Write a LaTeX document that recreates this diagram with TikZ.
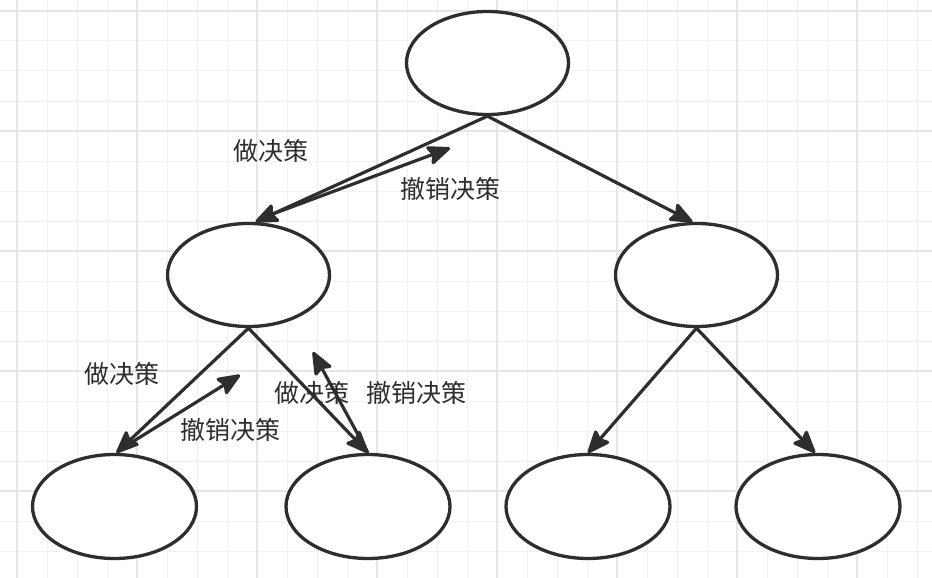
\documentclass[tikz,border=0pt]{standalone}
\usepackage{fontspec}
\newfontfamily\cjk{Noto Sans CJK SC}
\usetikzlibrary{shapes.geometric,arrows.meta}
\definecolor{ink}{HTML}{2E2E2E}
\definecolor{gridminor}{HTML}{F1F1F1}
\definecolor{gridmajor}{HTML}{E6E6E6}
\tikzset{
  gminor/.style={draw=gridminor,line width=1pt},
  gmajor/.style={draw=gridmajor,line width=1.6pt},
  state/.style={ellipse,draw=ink,line width=3.3pt,fill=white,minimum width=162pt,minimum height=103pt,inner sep=0pt},
  leaf/.style={state,minimum width=164pt,minimum height=104pt},
  conn/.style={draw=ink,line width=3.2pt,-{Stealth[length=26pt,width=21pt,inset=4pt,round]}},
  lbl/.style={text=ink,font=\cjk\fontsize{25}{28}\selectfont,inner sep=0pt}
}
\begin{document}
\begin{tikzpicture}[x=1pt,y=-1pt]
\useasboundingbox (0,0) rectangle (932,578);
\fill[white] (0,0) rectangle (932,578);
% grid
\foreach \i in {0,...,30} {\draw[gminor] (17+30*\i,0) -- (17+30*\i,578);}
\foreach \i in {0,...,19} {\draw[gminor] (0,11+30*\i) -- (932,11+30*\i);}
\foreach \i in {0,...,7} {\draw[gmajor] (17+120*\i,0) -- (17+120*\i,578);}
\foreach \i in {0,...,4} {\draw[gmajor] (0,11+120*\i) -- (932,11+120*\i);}
% nodes
\node[state] (top) at (487.5,63) {};
\node[state] (ml) at (248.5,275) {};
\node[state] (mr) at (696.5,275) {};
\node[leaf] (b1) at (114.5,506.5) {};
\node[leaf] (b2) at (368,506.5) {};
\node[leaf] (b3) at (588,506.5) {};
\node[leaf] (b4) at (818,506.5) {};
% free ends of the undo arrows
\coordinate (u1a) at (262,218);
\coordinate (u1b) at (450,148);
\coordinate (u2a) at (121,449);
\coordinate (u2b) at (240,375);
\coordinate (u3a) at (368,453);
\coordinate (u3b) at (313,352);
% connectors
\draw[conn] (top.south) -- ([xshift=7pt]ml.north);
\draw[conn] (top.south) -- ([xshift=-4pt]mr.north);
\draw[conn] (u1a) -- (u1b);
\draw[conn] (ml.south) -- ([xshift=2pt]b1.north);
\draw[conn] (u2a) -- (u2b);
\draw[conn] (ml.south) -- (b2.north);
\draw[conn] (u3a) -- (u3b);
\draw[conn] (mr.south) -- (b3.north);
\draw[conn] (mr.south) -- ([xshift=-3pt]b4.north);
% labels
\node[lbl] (l1) at (271,151) {做决策};
\node[lbl] (l2) at (450,189) {撤销决策};
\node[lbl] (l3) at (122,374) {做决策};
\node[lbl] (l4) at (230,430) {撤销决策};
\node[lbl] (l5) at (312,393) {做决策};
\node[lbl] (l6) at (416,393) {撤销决策};
\end{tikzpicture}
\end{document}
